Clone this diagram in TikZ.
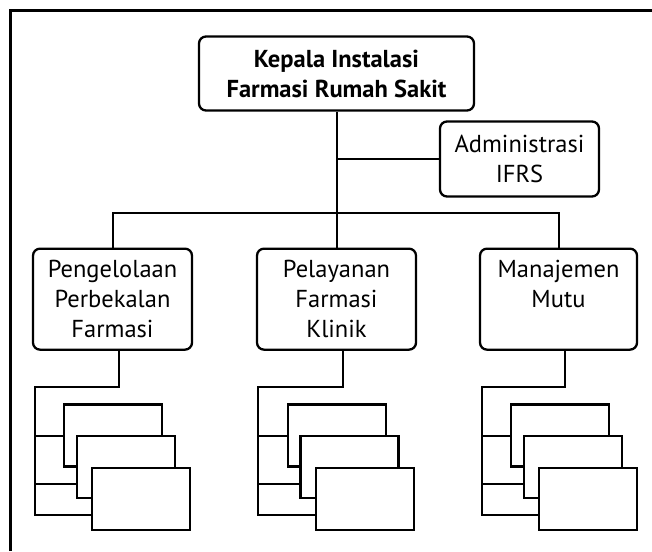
\documentclass[tikz,border=0pt]{standalone}
\usepackage{fontspec}
\setmainfont{PT Sans}
\usetikzlibrary{calc}
\begin{document}
\begin{tikzpicture}[x=1pt,y=-1pt,
  unit/.style={draw, line width=2.3pt, rounded corners=7pt, fill=white,
    align=center, inner sep=0pt, font=\fontsize{24.5}{30}\selectfont},
  sheet/.style={draw, line width=2.3pt, fill=white, inner sep=0pt,
    minimum width=98pt, minimum height=62pt},
  conn/.style={line width=2pt},
  frame/.style={line width=2.8pt}]
\useasboundingbox (0,0) rectangle (652,551);

% page frame (top and left edges)
\coordinate (fa) at (10.5,551);
\coordinate (fb) at (10.5,10.5);
\coordinate (fc) at (652,10.5);
\draw[frame] (fa) -- (fb) -- (fc);

% head, staff unit and the three sections
\node[unit, minimum width=275pt, minimum height=74pt,
      font=\fontsize{24.5}{30}\selectfont\bfseries] (top) at (336.5,73.5)
      {Kepala Instalasi\\Farmasi Rumah Sakit};
\node[unit, minimum width=159pt, minimum height=75pt] (admin) at (519.5,159)
      {Administrasi\\IFRS};
\node[unit, minimum width=159pt, minimum height=101pt, anchor=north] (b1) at (112.5,247.5)
      {Pengelolaan\\Perbekalan\\Farmasi};
\node[unit, minimum width=159pt, minimum height=101pt, anchor=north] (b2) at (336.5,247.5)
      {Pelayanan\\Farmasi\\Klinik};
% two lines set at the top, like the first two lines of the other sections
\node[unit, minimum width=157pt, minimum height=101pt, anchor=north] (b3) at (558.5,247.5)
      {Manajemen\\Mutu\\\phantom{Farmasi}};

\coordinate (bar) at (336.5,213);
\draw[conn] (top.south) -- (b2.north);
\draw[conn] (b1.north) |- (bar) -| (b3.north);
\draw[conn] (admin.west) -- (admin.west -| top.south);

% sub-units below each section
\foreach \i/\dx in {1/0, 2/223.5, 3/447} {
  \coordinate (k\i) at (34.7+\dx,386.7);
  \node[sheet] (back\i) at (113.3+\dx,435.5) {};
  \node[sheet] (mid\i) at (126+\dx,466.7) {};
  \node[sheet] (front\i) at (141.3+\dx,499.2) {};
  \coordinate (m\i) at ([yshift=14.7pt]mid\i.south west);
  \coordinate (e\i) at ([yshift=16pt]front\i.south west);
  \draw[conn] ([xshift=6.2pt]b\i.south) |- (k\i) -- (k\i |- e\i) -- (e\i);
  \draw[conn] (k\i |- back\i.west) -- (back\i.west);
  \draw[conn] (k\i |- m\i) -- (m\i);
}
% redraw the sheets so each one covers the one behind it
\foreach \i/\dx in {1/0, 2/223.5, 3/447} {
  \node[sheet] at (back\i) {};
  \node[sheet] at (mid\i) {};
  \node[sheet] at (front\i) {};
}
\end{tikzpicture}
\end{document}
